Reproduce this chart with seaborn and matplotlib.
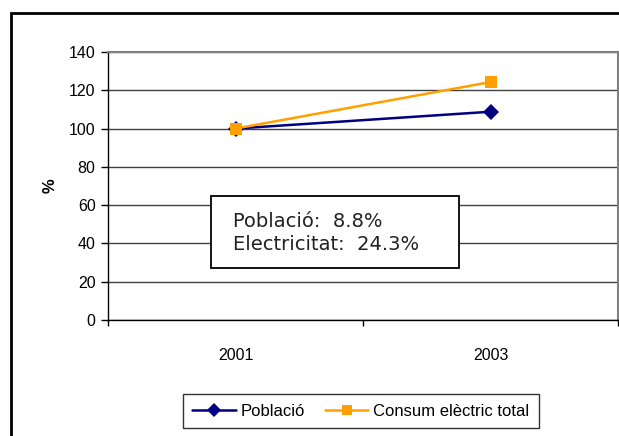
import matplotlib
matplotlib.use("Agg")
import matplotlib.pyplot as plt
from matplotlib.patches import Rectangle
import seaborn as sns
import pandas as pd

# Index values (2001 = 100)
years = ["2001", "2003"]
poblacio = [100.0, 108.8]
consum = [100.0, 124.3]
series_names = ["Població", "Consum elèctric total"]
y_ticks = [0, 20, 40, 60, 80, 100, 120, 140]

sns.set_theme(style="white")
plt.rcParams["font.family"] = ["Liberation Sans", "DejaVu Sans"]
plt.rcParams["text.color"] = "black"
plt.rcParams["xtick.color"] = "black"
plt.rcParams["ytick.color"] = "black"
plt.rcParams["axes.labelcolor"] = "black"

df = pd.DataFrame({
    "pos": list(range(len(years))) * 2,
    "valor": poblacio + consum,
    "serie": [series_names[0]] * len(years) + [series_names[1]] * len(years),
})

fig = plt.figure(figsize=(6.19, 4.36), dpi=100)
fig.patch.set_facecolor("white")
ax = fig.add_axes([108 / 619, 1 - 320 / 436, 510 / 619, 268 / 436])

palette = {series_names[0]: "#000080", series_names[1]: "#FFA000"}
sns.lineplot(data=df, x="pos", y="valor", hue="serie", style="serie",
             palette=palette, markers={series_names[0]: "D", series_names[1]: "s"},
             dashes=False, linewidth=1.8, markersize=8, markeredgewidth=0,
             ax=ax, legend=False, zorder=3)

ax.set_xlim(-0.5, len(years) - 0.5)
ax.set_ylim(0, 140)
ax.set_yticks(y_ticks)
ax.set_yticklabels([str(t) for t in y_ticks], fontsize=11.5)
ax.yaxis.grid(True, color="#404040", linewidth=1.0)
ax.set_axisbelow(True)

# category boundaries carry the tick marks, labels sit at the centres
ax.set_xticks([i - 0.5 for i in range(len(years) + 1)])
ax.set_xticklabels([])
ax.set_xticks(range(len(years)), minor=True)
ax.set_xticklabels(years, minor=True, fontsize=11.5)
ax.tick_params(axis="x", which="major", direction="out", length=4, width=1, bottom=True)
ax.tick_params(axis="x", which="minor", length=0, pad=20)
ax.tick_params(axis="y", direction="out", length=5, width=1, left=True, pad=4)

ax.set_xlabel("")
ax.set_ylabel("%", fontsize=12, fontweight="bold", labelpad=8)

for side in ["left", "bottom"]:
    ax.spines[side].set_color("black")
    ax.spines[side].set_linewidth(1.0)
for side in ["top", "right"]:
    ax.spines[side].set_color("#808080")
    ax.spines[side].set_linewidth(1.5)

# summary box with the growth between both years
growth_pob = poblacio[-1] - poblacio[0]
growth_elec = consum[-1] - consum[0]
summary = f"Població:  {growth_pob:.1f}%\nElectricitat:  {growth_elec:.1f}%"
fig.text(233 / 619, 1 - 233 / 436, summary, fontsize=14, family="DejaVu Sans",
         ha="left", va="center", linespacing=1.3, color="#222222", zorder=5)
fig.patches.append(Rectangle((211 / 619, 1 - 268 / 436), 248 / 619, 72 / 436,
                             transform=fig.transFigure, facecolor="white",
                             edgecolor="black", linewidth=1.3, zorder=4))

# legend
handles = [plt.Line2D([], [], color="#000080", marker="D", markersize=7, linewidth=1.8, markeredgewidth=0),
           plt.Line2D([], [], color="#FFA000", marker="s", markersize=7, linewidth=1.8, markeredgewidth=0)]
leg = fig.legend(handles, series_names, loc="center", bbox_to_anchor=(361 / 619, 1 - 411 / 436),
                 ncol=2, fontsize=12, frameon=True, fancybox=False, shadow=False,
                 handlelength=2.6, handletextpad=0.3, columnspacing=1.2,
                 borderpad=0.55, borderaxespad=0)
leg.get_frame().set_edgecolor("black")
leg.get_frame().set_linewidth(1.0)

# outer chart frame
fig.patches.append(Rectangle((11 / 619, -0.05), 1.0, 1 - 13 / 436 + 0.05,
                             transform=fig.transFigure, facecolor="none",
                             edgecolor="black", linewidth=2.0, zorder=0))

fig.savefig("out.png", dpi=100, facecolor="white")
